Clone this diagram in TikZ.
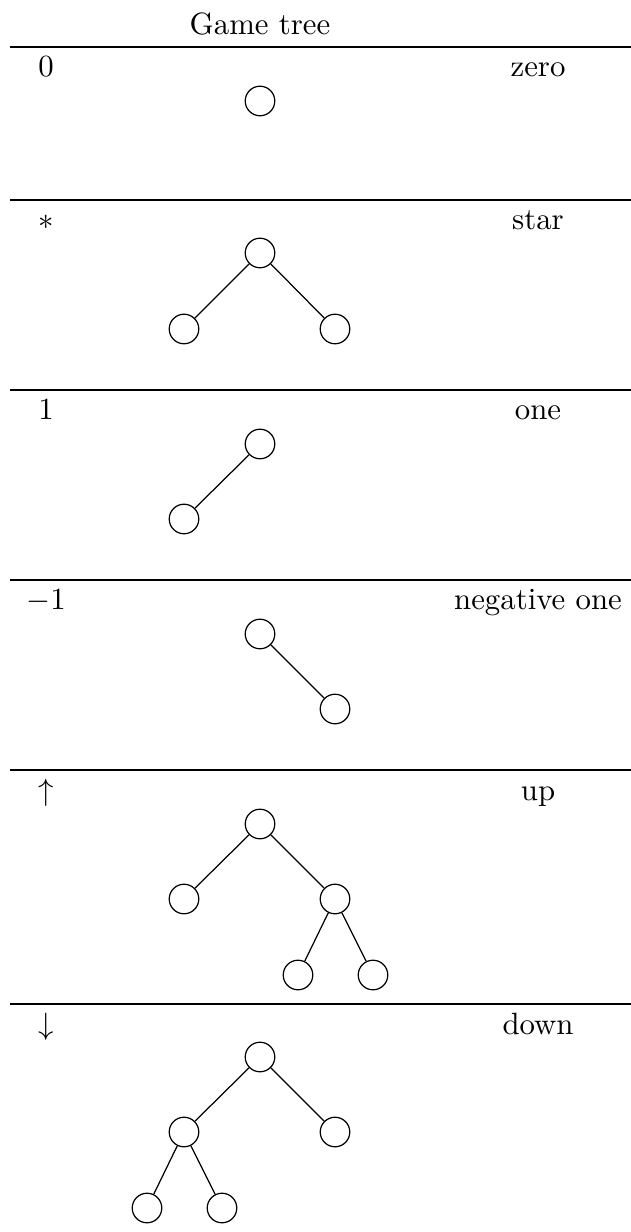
\documentclass[tikz,border=0pt]{standalone}
\begin{document}
\begin{tikzpicture}[x=0.3247pt,y=-0.3247pt,
  gnode/.style={draw,circle,minimum size=9.6pt,inner sep=0pt,line width=0.4pt},
  edge/.style={line width=0.4pt},
  rule/.style={line width=0.5pt},
  lab/.style={anchor=base,inner sep=0pt}]
\useasboundingbox (0,0) rectangle (631,1232);
% header
\node[lab] (hdr) at (260,35) {Game tree};
% rules
\foreach \y/\n in {47/r1,200/r2,390/r3,580/r4,770/r5,1004/r6} {
  \coordinate (\n a) at (10,\y);
  \coordinate (\n b) at (631,\y);
  \draw[rule] (\n a) -- (\n b);
}
% left labels
\node[lab] (l1) at (46,77) {$0$};
\node[lab] (l2) at (46,230) {$*$};
\node[lab] (l3) at (46,420) {$1$};
\node[lab] (l4) at (46,610) {$-1$};
\node[lab] (l5) at (46,800) {$\uparrow$};
\node[lab] (l6) at (46,1034) {$\downarrow$};
% right labels
\node[lab] (n1) at (538,77) {zero};
\node[lab] (n2) at (538,230) {star};
\node[lab] (n3) at (538,420) {one};
\node[lab] (n4) at (538,610) {negative one};
\node[lab] (n5) at (538,800) {up};
\node[lab] (n6) at (538,1034) {down};
% zero
\node[gnode] (z0) at (260,101) {};
% star
\node[gnode] (s0) at (260,253) {};
\node[gnode] (s1) at (184,329) {};
\node[gnode] (s2) at (335,329) {};
\draw[edge] (s0) -- (s1);
\draw[edge] (s0) -- (s2);
% one
\node[gnode] (o0) at (260,444) {};
\node[gnode] (o1) at (184,519) {};
\draw[edge] (o0) -- (o1);
% negative one
\node[gnode] (m0) at (260,634) {};
\node[gnode] (m1) at (335,709) {};
\draw[edge] (m0) -- (m1);
% up
\node[gnode] (u0) at (260,824) {};
\node[gnode] (u1) at (184,899) {};
\node[gnode] (u2) at (335,899) {};
\node[gnode] (u3) at (298,975) {};
\node[gnode] (u4) at (373,975) {};
\draw[edge] (u0) -- (u1);
\draw[edge] (u0) -- (u2);
\draw[edge] (u2) -- (u3);
\draw[edge] (u2) -- (u4);
% down
\node[gnode] (d0) at (260,1057) {};
\node[gnode] (d1) at (184,1132) {};
\node[gnode] (d2) at (335,1132) {};
\node[gnode] (d3) at (147,1208) {};
\node[gnode] (d4) at (222,1208) {};
\draw[edge] (d0) -- (d1);
\draw[edge] (d0) -- (d2);
\draw[edge] (d1) -- (d3);
\draw[edge] (d1) -- (d4);
\end{tikzpicture}
\end{document}
